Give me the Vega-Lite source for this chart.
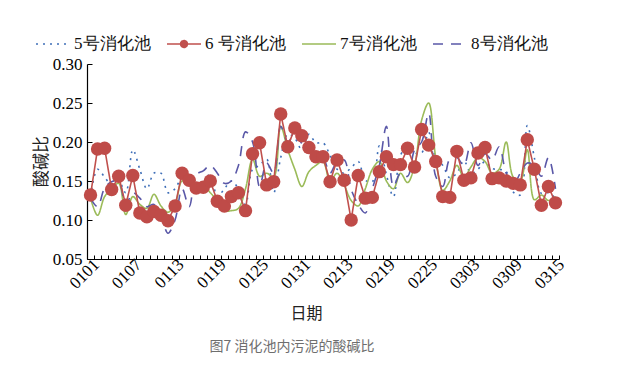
{
  "$schema": "https://vega.github.io/schema/vega-lite/v6.json",
  "width": 472,
  "height": 195,
  "autosize": "none",
  "padding": {"left": 87, "top": 64, "right": 64, "bottom": 116},
  "background": "white",
  "title": {
    "text": "图7 消化池内污泥的酸碱比",
    "orient": "bottom",
    "anchor": "middle",
    "dx": -31,
    "offset": 19,
    "font": "Noto Sans CJK SC",
    "fontSize": 14,
    "fontWeight": "normal",
    "color": "#6e6e6e"
  },
  "config": {
    "view": {"stroke": null},
    "axis": {
      "domainColor": "#000000",
      "tickColor": "#000000",
      "labelColor": "#000000",
      "titleColor": "#222222",
      "grid": false
    },
    "legend": {
      "symbolSize": 1156,
      "symbolStrokeWidth": 1.6,
      "labelFont": "Liberation Serif",
      "labelFontSize": 17,
      "labelColor": "#111111",
      "labelOffset": 3,
      "columnPadding": 12,
      "labelLimit": 200
    }
  },
  "data": {
    "values": [
      {"d": "0101", "5号消化池": 0.13, "6 号消化池": 0.132, "7号消化池": 0.128, "8号消化池": 0.128},
      {"d": "0102", "5号消化池": 0.165, "6 号消化池": 0.191, "7号消化池": 0.106, "8号消化池": 0.117},
      {"d": "0103", "5号消化池": 0.155, "6 号消化池": 0.192, "7号消化池": 0.13, "8号消化池": 0.141},
      {"d": "0104", "5号消化池": 0.145, "6 号消化池": 0.139, "7号消化池": 0.14, "8号消化池": 0.149},
      {"d": "0105", "5号消化池": 0.15, "6 号消化池": 0.156, "7号消化池": 0.147, "8号消化池": 0.15},
      {"d": "0106", "5号消化池": 0.135, "6 号消化池": 0.119, "7号消化池": 0.107, "8号消化池": 0.119},
      {"d": "0107", "5号消化池": 0.19, "6 号消化池": 0.157, "7号消化池": 0.13, "8号消化池": 0.135},
      {"d": "0108", "5号消化池": 0.165, "6 号消化池": 0.109, "7号消化池": 0.12, "8号消化池": 0.128},
      {"d": "0109", "5号消化池": 0.14, "6 号消化池": 0.104, "7号消化池": 0.115, "8号消化池": 0.117},
      {"d": "0110", "5号消化池": 0.16, "6 号消化池": 0.111, "7号消化池": 0.133, "8号消化池": 0.12},
      {"d": "0111", "5号消化池": 0.16, "6 号消化池": 0.106, "7号消化池": 0.118, "8号消化池": 0.105},
      {"d": "0112", "5号消化池": 0.135, "6 号消化池": 0.099, "7号消化池": 0.11, "8号消化池": 0.083},
      {"d": "0113", "5号消化池": 0.14, "6 号消化池": 0.118, "7号消化池": 0.12, "8号消化池": 0.1},
      {"d": "0114", "5号消化池": 0.155, "6 号消化池": 0.16, "7号消化池": 0.15, "8号消化池": 0.14},
      {"d": "0115", "5号消化池": 0.155, "6 号消化池": 0.151, "7号消化池": 0.145, "8号消化池": 0.117},
      {"d": "0116", "5号消化池": 0.15, "6 号消化池": 0.141, "7号消化池": 0.14, "8号消化池": 0.158},
      {"d": "0117", "5号消化池": 0.145, "6 号消化池": 0.142, "7号消化池": 0.145, "8号消化池": 0.163},
      {"d": "0118", "5号消化池": 0.16, "6 号消化池": 0.15, "7号消化池": 0.135, "8号消化池": 0.17},
      {"d": "0119", "5号消化池": 0.13, "6 号消化池": 0.124, "7号消化池": 0.125, "8号消化池": 0.16},
      {"d": "0120", "5号消化池": 0.14, "6 号消化池": 0.118, "7号消化池": 0.112, "8号消化池": 0.147},
      {"d": "0121", "5号消化池": 0.15, "6 号消化池": 0.13, "7号消化池": 0.112, "8号消化池": 0.15},
      {"d": "0122", "5号消化池": 0.14, "6 号消化池": 0.135, "7号消化池": 0.115, "8号消化池": 0.17},
      {"d": "0123", "5号消化池": 0.12, "6 号消化池": 0.112, "7号消化池": 0.14, "8号消化池": 0.213},
      {"d": "0124", "5号消化池": 0.165, "6 号消化池": 0.185, "7号消化池": 0.178, "8号消化池": 0.2},
      {"d": "0125", "5号消化池": 0.17, "6 号消化池": 0.199, "7号消化池": 0.156, "8号消化池": 0.143},
      {"d": "0126", "5号消化池": 0.178, "6 号消化池": 0.145, "7号消化池": 0.16, "8号消化池": 0.173},
      {"d": "0127", "5号消化池": 0.135, "6 号消化池": 0.149, "7号消化池": 0.155, "8号消化池": 0.16},
      {"d": "0128", "5号消化池": 0.18, "6 号消化池": 0.236, "7号消化池": 0.22, "8号消化池": 0.22},
      {"d": "0129", "5号消化池": 0.21, "6 号消化池": 0.194, "7号消化池": 0.19, "8号消化池": 0.2},
      {"d": "0130", "5号消化池": 0.205, "6 号消化池": 0.218, "7号消化池": 0.165, "8号消化池": 0.21},
      {"d": "0131", "5号消化池": 0.19, "6 号消化池": 0.208, "7号消化池": 0.143, "8号消化池": 0.198},
      {"d": "0208", "5号消化池": 0.21, "6 号消化池": 0.193, "7号消化池": 0.162, "8号消化池": 0.19},
      {"d": "0209", "5号消化池": 0.199, "6 号消化池": 0.181, "7号消化池": 0.17, "8号消化池": 0.186},
      {"d": "0210", "5号消化池": 0.199, "6 号消化池": 0.181, "7号消化池": 0.175, "8号消化池": 0.181},
      {"d": "0211", "5号消化池": 0.183, "6 号消化池": 0.149, "7号消化池": 0.15, "8号消化池": 0.16},
      {"d": "0212", "5号消化池": 0.165, "6 号消化池": 0.177, "7号消化池": 0.16, "8号消化池": 0.175},
      {"d": "0213", "5号消化池": 0.16, "6 号消化池": 0.151, "7号消化池": 0.145, "8号消化池": 0.177},
      {"d": "0214", "5号消化池": 0.167, "6 号消化池": 0.1, "7号消化池": 0.125, "8号消化池": 0.139},
      {"d": "0215", "5号消化池": 0.175, "6 号消化池": 0.157, "7号消化池": 0.118, "8号消化池": 0.12},
      {"d": "0216", "5号消化池": 0.151, "6 号消化池": 0.128, "7号消化池": 0.14, "8号消化池": 0.109},
      {"d": "0217", "5号消化池": 0.149, "6 号消化池": 0.129, "7号消化池": 0.165, "8号消化池": 0.14},
      {"d": "0218", "5号消化池": 0.195, "6 号消化池": 0.162, "7号消化池": 0.175, "8号消化池": 0.17},
      {"d": "0219", "5号消化池": 0.158, "6 号消化池": 0.181, "7号消化池": 0.15, "8号消化池": 0.22},
      {"d": "0220", "5号消化池": 0.13, "6 号消化池": 0.171, "7号消化池": 0.14, "8号消化池": 0.143},
      {"d": "0221", "5号消化池": 0.183, "6 号消化池": 0.171, "7号消化池": 0.16, "8号消化池": 0.16},
      {"d": "0222", "5号消化池": 0.194, "6 号消化池": 0.192, "7号消化池": 0.148, "8号消化池": 0.156},
      {"d": "0223", "5号消化池": 0.186, "6 号消化池": 0.168, "7号消化池": 0.17, "8号消化池": 0.19},
      {"d": "0224", "5号消化池": 0.186, "6 号消化池": 0.216, "7号消化池": 0.228, "8号消化池": 0.2},
      {"d": "0225", "5号消化池": 0.212, "6 号消化池": 0.196, "7号消化池": 0.25, "8号消化池": 0.237},
      {"d": "0226", "5号消化池": 0.18, "6 号消化池": 0.175, "7号消化池": 0.18, "8号消化池": 0.156},
      {"d": "0227", "5号消化池": 0.17, "6 号消化池": 0.13, "7号消化池": 0.138, "8号消化池": 0.143},
      {"d": "0228", "5号消化池": 0.154, "6 号消化池": 0.129, "7号消化池": 0.15, "8号消化池": 0.178},
      {"d": "0301", "5号消化池": 0.16, "6 号消化池": 0.188, "7号消化池": 0.17, "8号消化池": 0.18},
      {"d": "0302", "5号消化池": 0.176, "6 号消化池": 0.151, "7号消化池": 0.155, "8号消化池": 0.17},
      {"d": "0303", "5号消化池": 0.16, "6 号消化池": 0.154, "7号消化池": 0.168, "8号消化池": 0.199},
      {"d": "0304", "5号消化池": 0.165, "6 号消化池": 0.186, "7号消化池": 0.18, "8号消化池": 0.17},
      {"d": "0305", "5号消化池": 0.175, "6 号消化池": 0.193, "7号消化池": 0.175, "8号消化池": 0.185},
      {"d": "0306", "5号消化池": 0.166, "6 号消化池": 0.153, "7号消化池": 0.16, "8号消化池": 0.177},
      {"d": "0307", "5号消化池": 0.165, "6 号消化池": 0.154, "7号消化池": 0.165, "8号消化池": 0.194},
      {"d": "0308", "5号消化池": 0.162, "6 号消化池": 0.15, "7号消化池": 0.2, "8号消化池": 0.16},
      {"d": "0309", "5号消化池": 0.136, "6 号消化池": 0.147, "7号消化池": 0.155, "8号消化池": 0.145},
      {"d": "0310", "5号消化池": 0.132, "6 号消化池": 0.145, "7号消化池": 0.15, "8号消化池": 0.16},
      {"d": "0311", "5号消化池": 0.221, "6 号消化池": 0.203, "7号消化池": 0.19, "8号消化池": 0.173},
      {"d": "0312", "5号消化池": 0.18, "6 号消化池": 0.165, "7号消化池": 0.126, "8号消化池": 0.17},
      {"d": "0313", "5号消化池": 0.134, "6 号消化池": 0.119, "7号消化池": 0.132, "8号消化池": 0.156},
      {"d": "0314", "5号消化池": 0.135, "6 号消化池": 0.143, "7号消化池": 0.125, "8号消化池": 0.18},
      {"d": "0315", "5号消化池": 0.128, "6 号消化池": 0.122, "7号消化池": 0.13, "8号消化池": 0.14}
    ]
  },
  "transform": [
    {"fold": ["5号消化池", "6 号消化池", "7号消化池", "8号消化池"], "as": ["s", "v"]}
  ],
  "encoding": {
    "x": {
      "field": "d",
      "type": "ordinal",
      "sort": null,
      "bandPosition": 0.5,
      "scale": {"type": "band", "paddingInner": 0, "paddingOuter": 0},
      "axis": {
        "title": "日期",
        "titleFont": "Noto Sans CJK SC",
        "titleFontSize": 16,
        "titleFontWeight": "normal",
        "titleX": 219,
        "titleY": 54,
        "titleBaseline": "middle",
        "titleAlign": "center",
        "labelFont": "Liberation Serif",
        "labelFontSize": 17,
        "labelAngle": -45,
        "labelOverlap": false,
        "labelPadding": 1,
        "labelExpr": "indexof(['0101','0107','0113','0119','0125','0131','0213','0219','0225','0303','0309','0315'], datum.value) >= 0 ? datum.value : ''",
        "tickBand": "extent",
        "tickSize": -4,
        "domainWidth": 1.2
      }
    },
    "y": {
      "field": "v",
      "type": "quantitative",
      "scale": {"domain": [0.05, 0.3], "nice": false, "zero": false},
      "axis": {
        "title": "酸碱比",
        "titleFont": "Noto Sans CJK SC",
        "titleFontSize": 17,
        "titleFontWeight": "normal",
        "titleAngle": -90,
        "titleX": -46,
        "titleY": 97,
        "titleAlign": "center",
        "titleBaseline": "middle",
        "values": [0.05, 0.1, 0.15, 0.2, 0.25, 0.3],
        "format": ".2f",
        "labelFont": "Liberation Serif",
        "labelFontSize": 17,
        "labelPadding": 10,
        "tickSize": -5,
        "domainWidth": 1.2
      }
    }
  },
  "layer": [
    {
      "transform": [{"filter": "datum.s !== '6 号消化池'"}],
      "mark": {"type": "line", "interpolate": "catmull-rom", "strokeWidth": 1.6},
      "encoding": {
        "color": {
          "field": "s",
          "type": "nominal",
          "scale": {
            "domain": ["5号消化池", "6 号消化池", "7号消化池", "8号消化池"],
            "range": ["#3F6FB8", "#C0504D", "#9BBB59", "#5A58A8"]
          },
          "legend": {
            "title": null,
            "orient": "none",
            "direction": "horizontal",
            "legendX": -52,
            "legendY": -38,
            "symbolType": "stroke",
            "encode": {
              "symbols": {
                "update": {
                  "shape": {"signal": "datum.value === '6 号消化池' ? 'M-1,0H1M0.2,0A0.2,0.2,0,1,1,-0.2,0A0.2,0.2,0,1,1,0.2,0Z' : 'stroke'"},
                  "fill": {"signal": "datum.value === '6 号消化池' ? '#C0504D' : 'transparent'"}
                }
              }
            }
          }
        },
        "strokeDash": {
          "field": "s",
          "type": "nominal",
          "scale": {
            "domain": ["5号消化池", "6 号消化池", "7号消化池", "8号消化池"],
            "range": [[2, 5], [1, 0], [1, 0], [10, 8]]
          },
          "legend": {
            "title": null,
            "orient": "none",
            "direction": "horizontal",
            "legendX": -52,
            "legendY": -38
          }
        },
        "strokeWidth": {
          "condition": {"test": "datum.s === '5号消化池'", "value": 1.8},
          "value": 1.2
        }
      }
    },
    {
      "transform": [{"filter": "datum.s === '6 号消化池'"}],
      "mark": {"type": "line", "strokeWidth": 1.6},
      "encoding": {
        "color": {"field": "s", "type": "nominal"},
        "strokeDash": {"field": "s", "type": "nominal"}
      }
    },
    {
      "transform": [{"filter": "datum.s === '6 号消化池'"}],
      "mark": {"type": "point", "shape": "circle", "filled": true, "size": 180, "opacity": 1, "color": "#BF4B48"},
      "encoding": {}
    }
  ]
}
